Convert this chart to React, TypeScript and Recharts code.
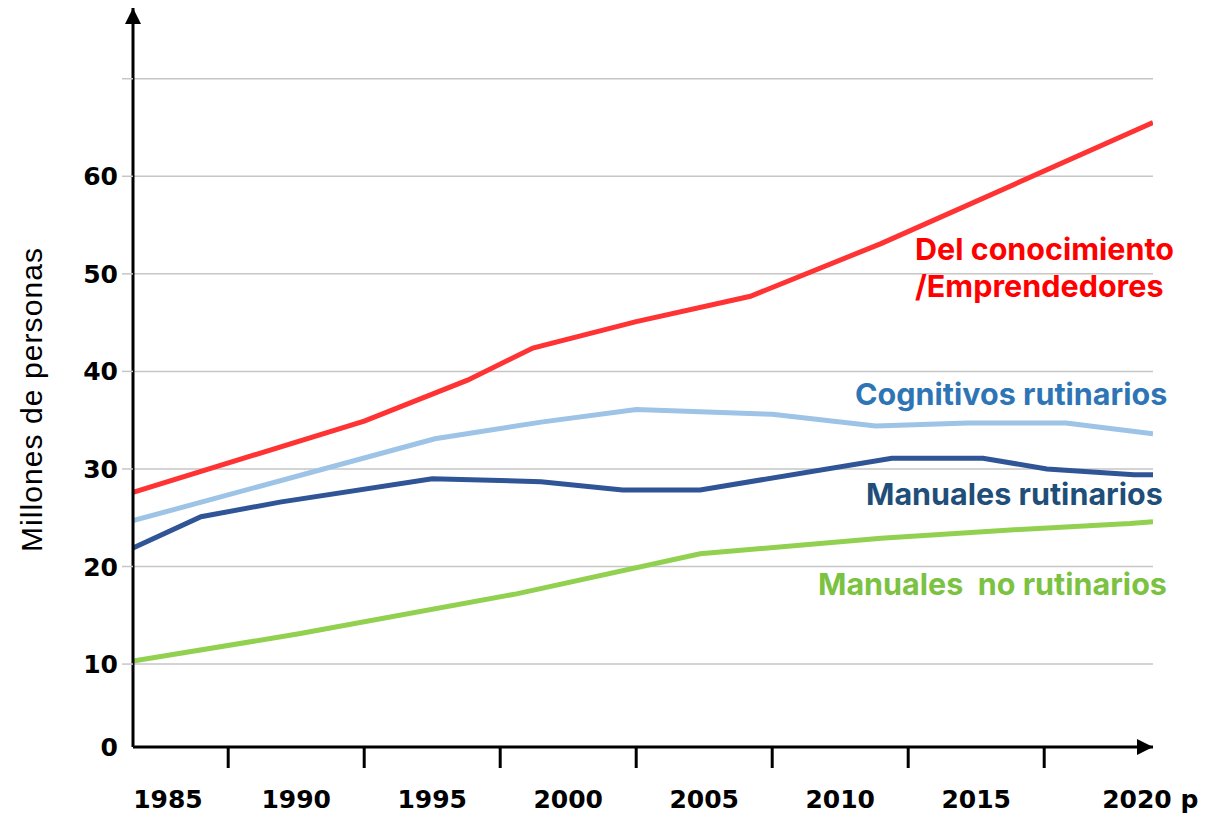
import { CartesianGrid, Line, LineChart, XAxis, YAxis } from "recharts";

// x axis: labels sit in the middle of 5-year bands, tick marks on band edges
const labelYears = [1985, 1990, 1995, 2000, 2005, 2010, 2015, 2020];
const yearLabels = ["1985", "1990", "1995", "2000", "2005", "2010", "2015", "2020 p"];
const bandEdges = [1987.5, 1992.5, 1997.5, 2002.5, 2007.5, 2012.5, 2017.5];

// y axis: the "0" label sits on the axis line, which is a little above true zero
const yTicks = [1.5, 10, 20, 30, 40, 50, 60, 70];
const yTickLabels = ["0", "10", "20", "30", "40", "50", "60", ""];
const gridValues = [10, 20, 30, 40, 50, 60, 70];

const conocimientoYears = [1984, 1992.5, 1996.3, 1998.7, 2002.5, 2006.7, 2011.5, 2021.5];
const conocimientoValues = [27.6, 34.9, 39.1, 42.4, 45.1, 47.7, 53.1, 65.5];

const cognitivosYears = [1984, 1995.1, 1999, 2002.5, 2007.5, 2011.3, 2014.7, 2018.3, 2021.5];
const cognitivosValues = [24.7, 33.1, 34.8, 36.1, 35.6, 34.4, 34.7, 34.7, 33.6];

const manualesRutYears = [1984, 1986.5, 1989.4, 1995, 1999, 2002, 2004.85, 2011.9, 2015.25, 2017.6, 2020.8, 2021.5];
const manualesRutValues = [21.9, 25.1, 26.6, 29.0, 28.7, 27.85, 27.85, 31.1, 31.1, 30.0, 29.4, 29.4];

const manualesNoRutYears = [1984, 1990.1, 1998.1, 2004.85, 2011.5, 2016.6, 2020.65, 2021.5];
const manualesNoRutValues = [10.3, 13.1, 17.2, 21.3, 22.9, 23.8, 24.4, 24.6];

const toPoints = (years: number[], values: number[]) =>
  years.map((year, i) => ({ year, value: values[i] }));

const series = [
  { name: "conocimiento", color: "#ff3333", data: toPoints(conocimientoYears, conocimientoValues) },
  { name: "cognitivos", color: "#9dc3e6", data: toPoints(cognitivosYears, cognitivosValues) },
  { name: "manualesRut", color: "#2f5597", data: toPoints(manualesRutYears, manualesRutValues) },
  { name: "manualesNoRut", color: "#92d050", data: toPoints(manualesNoRutYears, manualesNoRutValues) },
];

const xTicks = [...labelYears, ...bandEdges].sort((a, b) => a - b);

const tickFont = { fontFamily: "DejaVu Sans", fontWeight: 700, fontSize: 25, fill: "#000" };
const labelFont = { fontFamily: "Inter", fontWeight: 700, fontSize: 30.5 };

function XTick({ x, y, payload }: any) {
  const v = payload.value;
  const i = labelYears.indexOf(v);
  if (i < 0) {
    return <line x1={x} x2={x} y1={y} y2={y + 21} stroke="#000" strokeWidth={3} />;
  }
  const first = i === 0;
  const last = i === labelYears.length - 1;
  return (
    <text
      x={first ? x - 27 : last ? x - 10 : x}
      y={y + 61}
      textAnchor={first || last ? "start" : "middle"}
      {...tickFont}
    >
      {yearLabels[i]}
    </text>
  );
}

function YTick({ x, y, payload }: any) {
  const i = yTicks.indexOf(payload.value);
  return (
    <g>
      {i > 0 && <line x1={x - 11} x2={x} y1={y} y2={y} stroke="#c6c6c6" strokeWidth={1.5} />}
      <text x={x - 15} y={y} dy="0.36em" textAnchor="end" {...tickFont}>
        {yTickLabels[i]}
      </text>
    </g>
  );
}

export default function App() {
  return (
    <div style={{ position: "absolute", left: 0, top: 0, width: 1217, height: 815, background: "#fff" }}>
      <svg width={0} height={0} style={{ position: "absolute" }}>
        <defs>
          <marker
            id="arrowHead"
            viewBox="0 0 16 16"
            refX={16}
            refY={8}
            markerWidth={16}
            markerHeight={16}
            markerUnits="userSpaceOnUse"
            orient="auto-start-reverse"
          >
            <path d="M0,0 L16,8 L0,16 z" fill="#000" />
          </marker>
        </defs>
      </svg>
      <LineChart width={1217} height={815} margin={{ top: 8, right: 64, bottom: 0, left: 0 }}>
        <CartesianGrid vertical={false} horizontalValues={gridValues} stroke="#c6c6c6" strokeWidth={1.5} />
        <XAxis
          type="number"
          dataKey="year"
          domain={[1984, 2021.5]}
          ticks={xTicks}
          interval={0}
          allowDataOverflow
          height={68}
          tickSize={0}
          tickMargin={0}
          tickLine={false}
          tick={(p: any) => <XTick {...p} />}
          axisLine={{ stroke: "#000", strokeWidth: 3, markerEnd: "url(#arrowHead)" }}
        />
        <YAxis
          type="number"
          domain={[1.5, 77.25]}
          ticks={yTicks}
          interval={0}
          allowDataOverflow
          width={133}
          tickSize={0}
          tickMargin={0}
          tickLine={false}
          tick={(p: any) => <YTick {...p} />}
          axisLine={{ stroke: "#000", strokeWidth: 3, markerStart: "url(#arrowHead)" }}
        />
        {series.map((s) => (
          <Line
            key={s.name}
            data={s.data}
            dataKey="value"
            type="linear"
            stroke={s.color}
            strokeWidth={5}
            dot={false}
            activeDot={false}
            isAnimationActive={false}
          />
        ))}
      </LineChart>
      <svg
        width={1217}
        height={815}
        style={{ position: "absolute", left: 0, top: 0, pointerEvents: "none" }}
      >
        <text
          transform="translate(42, 400) rotate(-90)"
          textAnchor="middle"
          fontFamily="Liberation Sans"
          fontSize={30}
          textLength={304}
          lengthAdjust="spacing"
          fill="#000"
        >
          Millones de personas
        </text>
        <text x={915} y={260} fill="#ff0000" {...labelFont}>Del conocimiento</text>
        <text x={915} y={297} fill="#ff0000" {...labelFont}>/Emprendedores</text>
        <text x={855} y={405} fill="#2e75b6" {...labelFont}>Cognitivos rutinarios</text>
        <text x={866} y={505} fill="#1f4e79" {...labelFont}>Manuales rutinarios</text>
        <text x={818} y={595} fill="#7cc242" style={{ whiteSpace: "pre" }} {...labelFont}>
          Manuales  no rutinarios
        </text>
      </svg>
    </div>
  );
}
